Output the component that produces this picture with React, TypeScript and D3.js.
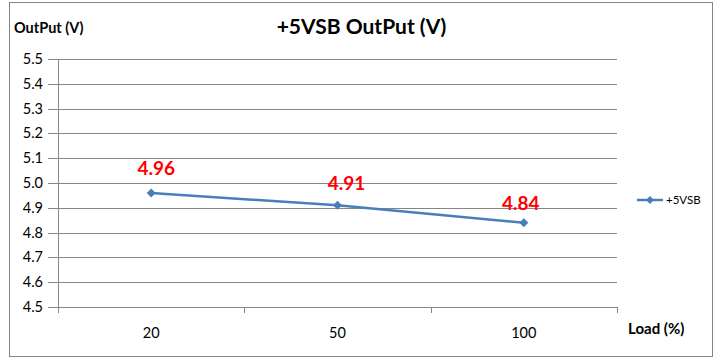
import React from "react";
import * as d3 from "d3";

const categories = ["20", "50", "100"];
const values = [4.96, 4.91, 4.84];
const seriesName = "+5VSB";
const yTicks = [4.5, 4.6, 4.7, 4.8, 4.9, 5.0, 5.1, 5.2, 5.3, 5.4, 5.5];
const title = "+5VSB OutPut (V)";
const yTitle = "OutPut (V)";
const xTitle = "Load (%)";
// label offsets relative to each point (layout only)
const labelDx = [5, 9, -3];
const labelDy = [-18, -15, -13];

const W = 716;
const H = 359;
const FONT = "Lato, 'Open Sans', sans-serif";
const GRID = "#868686";
const LINE = "#4a7ebb";

export default function App() {
  const left = 58, right = 617, top = 59, bottom = 307;
  const x = d3.scaleBand<string>().domain(categories).range([left, right]);
  const y = d3.scaleLinear().domain([4.5, 5.5]).range([bottom, top]);
  const cx = (c: string) => (x(c) as number) + x.bandwidth() / 2;
  const line = d3.line<number>().x((_, i) => cx(categories[i])).y((v) => y(v));
  const diamond = (px: number, py: number, r: number) =>
    `M${px},${py - r}L${px + r},${py}L${px},${py + r}L${px - r},${py}Z`;
  const bounds = [left, ...categories.map((c) => (x(c) as number) + x.bandwidth())];

  return (
    <svg width={W} height={H} style={{ position: "absolute", left: 0, top: 0 }}>
      <rect x={0} y={0} width={W} height={H} fill="#fff" />
      <rect x={9.5} y={2.5} width={703} height={354} fill="none" stroke={GRID} strokeWidth={1} />
      <text x={361.5} y={34} textAnchor="middle" fontFamily={FONT} fontWeight="bold" fontSize={21} fill="#000">
        {title}
      </text>
      <text x={14} y={33} fontFamily={FONT} fontWeight="bold" fontSize={14.5} fill="#000">
        {yTitle}
      </text>
      {yTicks.map((t) => (
        <g key={t}>
          <line x1={48} x2={right} y1={Math.round(y(t)) + 0.5} y2={Math.round(y(t)) + 0.5} stroke={GRID} strokeWidth={1} />
          <text x={43} y={y(t) + 5} textAnchor="end" fontFamily={FONT} fontSize={14.5} fill="#000">
            {t.toFixed(1)}
          </text>
        </g>
      ))}
      <line x1={left + 0.5} x2={left + 0.5} y1={top} y2={bottom + 6} stroke={GRID} strokeWidth={1} />
      {bounds.map((b, i) => (
        <line key={i} x1={Math.round(b) + 0.5} x2={Math.round(b) + 0.5} y1={bottom} y2={bottom + 6} stroke={GRID} strokeWidth={1} />
      ))}
      {categories.map((c) => (
        <text key={c} x={cx(c)} y={338} textAnchor="middle" fontFamily={FONT} fontSize={14.5} fill="#000">
          {c}
        </text>
      ))}
      <text x={628} y={334} fontFamily={FONT} fontWeight="bold" fontSize={15} fill="#000">
        {xTitle}
      </text>
      <path d={line(values) || ""} fill="none" stroke={LINE} strokeWidth={2.5} />
      {values.map((v, i) => (
        <path key={i} d={diamond(cx(categories[i]), y(v), 4.5)} fill={LINE} />
      ))}
      {values.map((v, i) => (
        <text
          key={"l" + i}
          x={cx(categories[i]) + labelDx[i]}
          y={y(v) + labelDy[i]}
          textAnchor="middle"
          fontFamily={FONT}
          fontWeight="bold"
          fontSize={19}
          fill="#ff0000"
        >
          {v.toFixed(2)}
        </text>
      ))}
      <line x1={637} x2={663} y1={200} y2={200} stroke={LINE} strokeWidth={2.5} />
      <path d={diamond(650, 200, 4)} fill={LINE} />
      <text x={666} y={204} fontFamily={FONT} fontSize={11.5} fill="#000">
        {seriesName}
      </text>
    </svg>
  );
}
